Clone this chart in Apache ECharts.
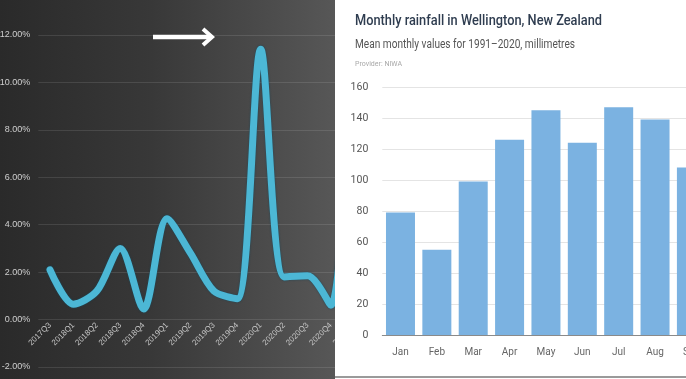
<!DOCTYPE html>
<html>
<head>
<meta charset="utf-8">
<script src="https://cdn.jsdelivr.net/npm/echarts@6/dist/echarts.min.js"></script>
<style>
  html, body { margin: 0; padding: 0; width: 686px; height: 379px; overflow: hidden; background: #fff; }
  #leftWrap { position: absolute; left: 0; top: 0; width: 335px; height: 379px; overflow: hidden;
    background: linear-gradient(to right, #2a2a2a 0%, #383838 45%, #575757 100%); }
  #left { position: absolute; left: 0; top: 0; width: 380px; height: 379px; }
  #rightWrap { position: absolute; left: 335px; top: 0; width: 351px; height: 379px; overflow: hidden; background: #fff; }
  #right { position: absolute; left: 0; top: 0; width: 500px; height: 379px; }
  #rightBorder { position: absolute; left: 335px; top: 376px; width: 351px; height: 2px; background: #9a9a9a; }
</style>
</head>
<body>
<div id="leftWrap"><div id="left"></div></div>
<div id="rightWrap"><div id="right"></div></div>
<div id="rightBorder"></div>
<script>
// ---- Left chart data (quarterly growth, %) ----
const quarters = ['2017Q3','2018Q1','2018Q2','2018Q3','2018Q4','2019Q1','2019Q2','2019Q3','2019Q4','2020Q1','2020Q2','2020Q3','2020Q4','2021Q1'];
const growthPct = [2.1, 0.65, 1.2, 3.0, 0.45, 4.25, 2.8, 1.2, 0.88, 11.4, 1.8, 1.85, 0.6, 14];

// ---- Right chart data (rainfall, mm) ----
const months = ['Jan','Feb','Mar','Apr','May','Jun','Jul','Aug','Sep','Oct','Nov','Dec'];
const rainfallMm = [79, 55, 99, 126, 145, 124, 147, 139, 108, 118, 94, 92];
const rainTitle = 'Monthly rainfall in Wellington, New Zealand';
const rainSubtitle = 'Mean monthly values for 1991–2020, millimetres';
const rainProvider = 'Provider: NIWA';

const sansFont = "Roboto, 'Liberation Sans', sans-serif";

// horizontally condensed text helper (the original uses a condensed typeface)
const measureCtx = document.createElement('canvas').getContext('2d');
function condensedText(text, font, fill, x, y, targetWidth) {
  measureCtx.font = font;
  const w = measureCtx.measureText(text).width;
  return {
    type: 'text', x: x, y: y, scaleX: targetWidth / w, scaleY: 1,
    style: { text: text, font: font, fill: fill, textVerticalAlign: 'middle', textAlign: 'left' }
  };
}

const left = echarts.init(document.getElementById('left'), null, { renderer: 'canvas' });
left.setOption({
  backgroundColor: 'transparent',
  animation: false,
  grid: { left: 38.3, right: 14, top: 35, bottom: 12, outerBoundsMode: 'none', containLabel: false },
  xAxis: {
    type: 'category',
    data: quarters,
    boundaryGap: true,
    offset: -48,
    axisLine: { show: false, onZero: false },
    axisTick: { show: false },
    axisLabel: { rotate: 45, fontSize: 8, color: '#c4c4c4', margin: 5, interval: 0,
      fontFamily: "'Liberation Sans', sans-serif" }
  },
  yAxis: {
    type: 'value', min: -2, max: 12, interval: 2,
    axisLine: { show: false }, axisTick: { show: false },
    splitLine: { lineStyle: { color: 'rgba(255,255,255,0.11)', width: 1 } },
    axisLabel: { color: '#cfcfcf', fontSize: 9, margin: 8,
      fontFamily: "'Liberation Sans', sans-serif",
      formatter: v => v.toFixed(2) + '%' }
  },
  series: [{
    type: 'line', data: growthPct, smooth: 0.3, symbol: 'none', clip: false,
    lineStyle: { color: '#4cb7d5', width: 7, cap: 'round', join: 'round',
      shadowColor: 'rgba(20,70,90,0.9)', shadowBlur: 2 }
  }],
  graphic: [
    { type: 'line', shape: { x1: 153, y1: 37, x2: 211, y2: 37 }, style: { stroke: '#ffffff', lineWidth: 4.5 }, z: 100 },
    { type: 'polyline', shape: { points: [[203, 29], [212, 37], [203, 45]] },
      style: { stroke: '#ffffff', lineWidth: 4, fill: null, lineJoin: 'miter' }, z: 100 }
  ]
});

const right = echarts.init(document.getElementById('right'), null, { renderer: 'canvas' });
right.setOption({
  backgroundColor: '#ffffff',
  animation: false,
  graphic: [
    condensedText(rainTitle, "500 15.5px " + sansFont, '#2f3d50', 20, 21, 247),
    condensedText(rainSubtitle, "400 12.5px " + sansFont, '#555555', 20, 45, 220),
    condensedText(rainProvider, "400 7.5px " + sansFont, '#a8a8a8', 20, 64, 47)
  ],
  grid: { left: 47.3, right: 16.3, top: 87, bottom: 44, outerBoundsMode: 'none', containLabel: false },
  xAxis: {
    type: 'category', data: months,
    axisLine: { lineStyle: { color: '#8a8a8a', width: 1 } },
    axisTick: { alignWithLabel: true, length: 4, lineStyle: { color: '#8a8a8a' } },
    axisLabel: { color: '#666', fontSize: 10, margin: 12, fontFamily: sansFont, interval: 0 }
  },
  yAxis: {
    type: 'value', min: 0, max: 160, interval: 20,
    axisLine: { show: false }, axisTick: { show: false },
    splitLine: { lineStyle: { color: '#e4e4e4' } },
    axisLabel: { color: '#555', fontSize: 10.5, margin: 14, fontFamily: sansFont }
  },
  series: [{
    type: 'bar', data: rainfallMm, barWidth: 29,
    itemStyle: { color: '#7bb2e1' }
  }]
});
</script>
</body>
</html>
